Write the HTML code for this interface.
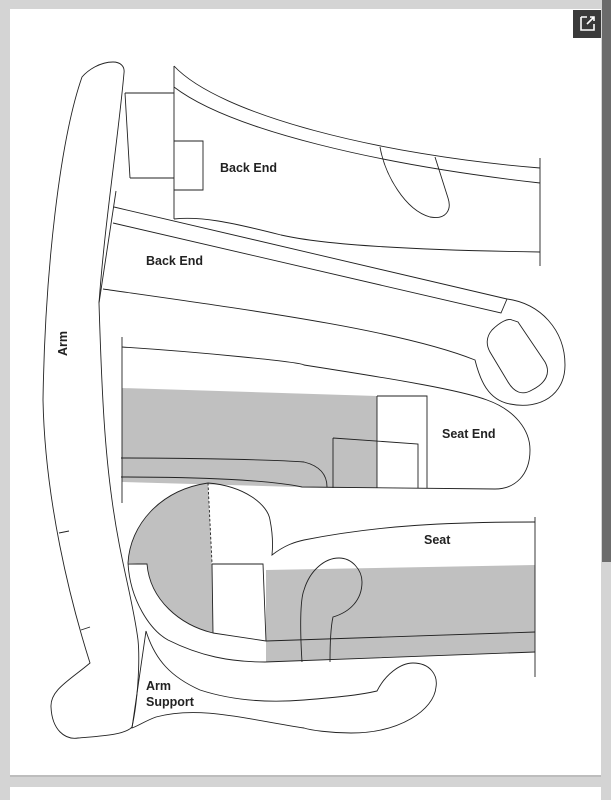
<!DOCTYPE html>
<html><head><meta charset="utf-8"><style>
html,body{margin:0;padding:0;width:611px;height:800px;overflow:hidden;background:#d4d4d4;}
svg{position:absolute;left:0;top:0;}
text{font-family:"Liberation Sans",sans-serif;font-weight:bold;font-size:12.5px;fill:#222;}
</style></head><body>
<svg width="611" height="800" viewBox="0 0 611 800">
<rect x="0" y="0" width="611" height="800" fill="#d4d4d4"/>
<rect x="10" y="10" width="591" height="767" fill="#bdbdbd"/>
<rect x="10" y="9" width="591" height="766" fill="#fff"/>
<rect x="10" y="787" width="591" height="13" fill="#fff"/>
<rect x="602" y="0" width="9" height="562" fill="#6b6b6b"/>
<rect x="573" y="10" width="28" height="28" fill="#3a3a3a"/>
<path d="M581,17 h6 M581,17 v13 h13 v-6 M587,24 l7,-7 M590,17 h4 v4" stroke="#fff" stroke-width="1.6" fill="none"/>
<g fill="#c0c0c0" stroke="none">
<path d="M122,388 L377,396 L377,488 L333,488 L122,482 Z"/>
<path d="M208,483 C160,490 130,525 128,563 L147,564 C150,600 180,625 213,633 L212,564 Z"/>
<path d="M266,570 L535,565 L535,652 L266,662 Z"/>
</g>
<g fill="none" stroke="#222" stroke-width="0.9">
<!-- Arm -->
<path d="M113,62 C100,62 88,70 82,77 C60,140 45,270 43,400 C45,500 70,600 90,663 C70,680 50,690 51,707 C52,730 65,740 78,738 C100,736 125,735 132,727 C138,700 140,660 138,640 C133,600 120,560 112,500 C105,450 102,400 99,303 C105,220 118,140 124,73 C125,66 120,62 113,62 Z"/>
<path d="M59,533 L69,531 M81,630 L90,627"/>
<!-- Back End 1 -->
<path d="M174,66 L174,219 M174,66 C220,115 380,155 540,168 M174,87 C230,130 380,165 540,183 M540,158 L540,266"/>
<path d="M174,219 C200,216 230,222 281,235 C320,244 400,250 540,252"/>
<path d="M125,93 L174,93 M130,178 L174,178 M125,93 L130,178"/>
<path d="M174,141 L203,141 L203,190 L174,190"/>
<path d="M380,147 C385,175 405,210 430,217 C446,220 452,210 448,198 L435,157"/>
<!-- Back End 2 -->
<path d="M116,191 L99,303"/>
<path d="M114,207 L507,299 M113,223 L501,313 L507,299"/>
<path d="M103,289 C250,310 400,330 475,360 C480,380 488,400 510,404 C540,410 565,395 565,365 C565,330 540,303 507,299"/>
<path d="M512,320 C508,318 500,322 492,330 C486,337 486,345 490,352 L508,382 C514,392 522,396 532,390 C546,383 551,373 545,362 L518,322 Z"/>
<!-- Seat End -->
<path d="M122,337 L122,503"/>
<path d="M122,347 C200,352 300,362 304,365 C400,380 460,390 487,400 C515,410 530,430 530,450 C530,475 515,489 495,489 L302,487 C270,480 200,477 121,477"/>
<path d="M121,458 C200,458 280,460 304,462 C320,466 327,475 327,487"/>
<path d="M377,396 L427,396 L427,488 M377,396 L377,488 M333,438 L418,444 L418,488 M333,438 L333,488"/>
<!-- Seat -->
<path d="M208,483 C160,490 130,525 128,563 C130,600 150,630 168,640 C200,656 230,662 265,662 L535,652"/>
<path d="M208,483 C245,486 268,505 270,520 C273,535 273,545 272,555 C285,545 295,542 304,540 C380,525 450,522 535,522"/>
<path d="M535,517 L535,677"/>
<path d="M208,483 L212,563" stroke-dasharray="2.5,2"/>
<path d="M128,564 L147,564 C150,600 180,625 213,633 L266,641 L535,632"/>
<path d="M212,564 L263,564 L266,641 M212,564 L213,633"/>
<path d="M302,662 C300,630 300,600 304,590 C310,570 325,558 339,558 C352,558 362,570 362,582 C362,600 350,612 333,617 C330,630 330,650 330,662"/>
<!-- Arm Support -->
<path d="M146,631 C155,660 171,677 200,690 C240,703 280,702 304,700 C340,697 360,695 377,691 C385,675 400,663 413,663 C430,663 438,675 436,687 C434,710 400,733 351,733 C330,733 310,730 304,728 C250,720 200,705 156,717 C145,721 138,726 132,728 L146,631"/>
</g>
<text x="220" y="172">Back End</text>
<text x="146" y="265">Back End</text>
<text x="442" y="438">Seat End</text>
<text x="424" y="544">Seat</text>
<text x="146" y="690">Arm</text>
<text x="146" y="706">Support</text>
<text x="0" y="0" transform="translate(67,356) rotate(-90)">Arm</text>
</svg>
</body></html>
